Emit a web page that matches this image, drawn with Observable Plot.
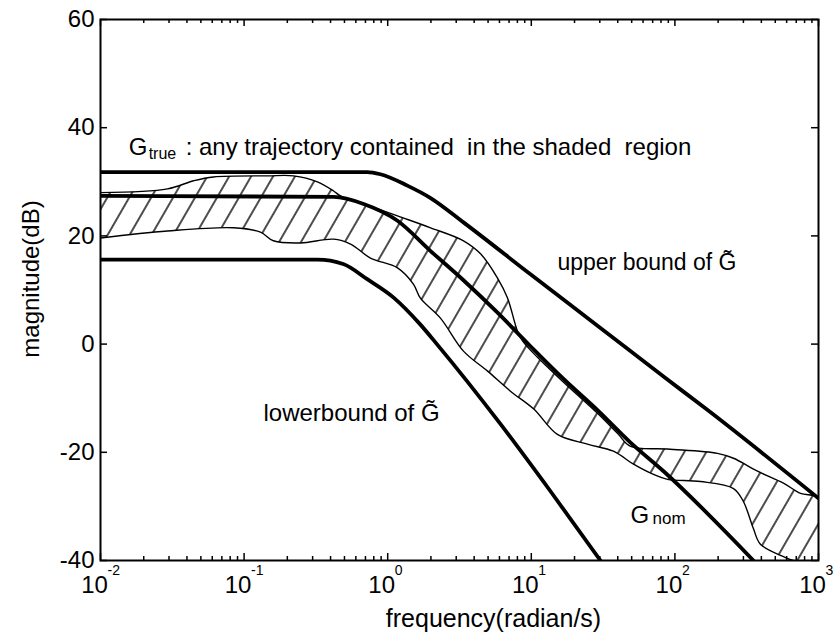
<!DOCTYPE html>
<html>
<head>
<meta charset="utf-8">
<script src="https://cdn.jsdelivr.net/npm/d3@7"></script>
<script src="https://cdn.jsdelivr.net/npm/@observablehq/plot@0.6"></script>
<style>
  html, body { margin: 0; padding: 0; background: #fff; }
  #chart svg { display: block; }
</style>
</head>
<body>
<div id="chart"></div>
<script>
// Frequency in rad/s, magnitude in dB.

// Upper bound of G~
const upperFreq = [0.01, 0.72, 0.89, 1.37, 1.99, 3.37, 9.87, 28.9, 83.3, 169, 1000];
const upperDb   = [31.8, 31.8, 31.4, 29.3, 27.0, 22.5, 12.9, 3.4, -6.0, -12.2, -28.5];

// Nominal model G_nom
const nomFreq = [0.01, 0.42, 0.68, 1.17, 1.99, 3.37, 5.82, 9.87, 16.7, 28.9, 49.1, 83.4, 352];
const nomDb   = [27.4, 27.2, 25.9, 22.8, 17.2, 11.8, 5.8, -0.4, -6.4, -12.2, -18.2, -23.5, -40];

// Lower bound of G~
const lowerFreq = [0.01, 0.325, 0.49, 0.72, 1.10, 1.69, 2.2, 6.11, 13.6, 30.3];
const lowerDb   = [15.6, 15.6, 14.8, 12.0, 8.6, 3.6, 0, -14.8, -27.2, -40];

// Shaded region (G_true): top edge
const bandTopFreq = [0.01, 0.0293, 0.0445, 0.0612, 0.1455, 0.221, 0.324, 0.42, 0.469, 0.72, 1.17, 1.99, 3.37, 4.43, 5.82, 6.83, 8.01, 8.69, 11.0, 16.7, 28.9, 39.8, 49.1, 88.7, 198, 256, 376, 570, 750, 1000];
const bandTopDb   = [28.0, 28.7, 30.2, 30.9, 31.1, 31.1, 30.0, 28.3, 27.4, 25.7, 23.7, 21.5, 19.1, 16.7, 12.2, 8.5, 2.4, 0.6, -2.4, -7.0, -12.8, -16.5, -18.9, -19.4, -20.2, -21.1, -23.5, -25.7, -27.6, -28.5];

// Shaded region (G_true): bottom edge
const bandBottomFreq = [0.01, 0.0293, 0.0843, 0.13, 0.16, 0.247, 0.42, 0.551, 0.759, 1.17, 1.51, 1.69, 2.33, 3.37, 4.96, 7.16, 10.4, 15.2, 24.6, 37.3, 51.5, 71.0, 88.7, 151, 256, 300, 352, 394, 570, 670, 1000];
const bandBottomDb   = [19.6, 20.9, 21.5, 20.7, 19.1, 18.7, 19.4, 18.5, 15.9, 14.1, 11.1, 8.5, 4.8, -1.3, -5.0, -8.7, -12.0, -16.7, -18.5, -19.8, -22.2, -24.1, -25.0, -25.4, -26.7, -29.1, -34.1, -37.0, -39.3, -40, -40];

// Axis ticks and labels
const xDecades = [0.01, 0.1, 1, 10, 100, 1000];
const xExponents = ["-2", "-1", "0", "1", "2", "3"];
const yTicks = [-40, -20, 0, 20, 40, 60];
const xLabel = "frequency(radian/s)";
const yLabel = "magnitude(dB)";

const zip = (xs, ys) => xs.map((x, i) => ({x, y: ys[i]}));
const upper = zip(upperFreq, upperDb);
const nominal = zip(nomFreq, nomDb);
const lower = zip(lowerFreq, lowerDb);
const band = [...zip(bandTopFreq, bandTopDb), ...zip(bandBottomFreq, bandBottomDb).reverse()];

// minor log ticks 2..9 within each decade
const xMinor = xDecades.slice(0, -1).flatMap(d => d3.range(2, 10).map(k => k * d));

const W = 833, H = 638;
const M = {left: 100, right: 15, top: 19, bottom: 78};
const frameW = W - M.left - M.right;
const frameH = H - M.top - M.bottom;

const font = "'Liberation Sans', Arial, Helvetica, sans-serif";
const thick = {x: "x", y: "y", curve: "monotone-x", stroke: "#000", strokeWidth: 3.8, clip: true};
const tickStyle = {stroke: "#000", strokeWidth: 1.5};
const major = 7, minor = 4;

const chart = Plot.plot({
  width: W,
  height: H,
  marginLeft: M.left,
  marginRight: M.right,
  marginTop: M.top,
  marginBottom: M.bottom,
  style: {fontFamily: font, fontSize: "24px", background: "#fff", color: "#000"},
  x: {type: "log", domain: [0.01, 1000], axis: null},
  y: {domain: [-40, 60], axis: null},
  marks: [
    // hatched uncertainty region
    Plot.line(band, {x: "x", y: "y", curve: "catmull-rom", fill: "url(#hatch)", stroke: "#000", strokeWidth: 1.4, clip: true}),
    Plot.line(upper, thick),
    Plot.line(nominal, thick),
    Plot.line(lower, thick),
    Plot.frame({stroke: "#000", strokeWidth: 2}),

    // inward tick marks on all four sides
    Plot.tickX(xDecades, {x: d => d, insetTop: frameH - major, ...tickStyle}),
    Plot.tickX(xDecades, {x: d => d, insetBottom: frameH - major, ...tickStyle}),
    Plot.tickX(xMinor, {x: d => d, insetTop: frameH - minor, ...tickStyle}),
    Plot.tickX(xMinor, {x: d => d, insetBottom: frameH - minor, ...tickStyle}),
    Plot.tickY(yTicks, {y: d => d, insetRight: frameW - major, ...tickStyle}),
    Plot.tickY(yTicks, {y: d => d, insetLeft: frameW - major, ...tickStyle}),

    // y tick labels
    Plot.text(yTicks, {y: d => d, frameAnchor: "left", text: d => String(d), textAnchor: "end", lineAnchor: "middle", dx: -6, fontSize: 24, fill: "#000"}),

    // x tick labels: 10 with superscript exponent
    Plot.text(xDecades, {x: d => d, frameAnchor: "bottom", text: () => "10", textAnchor: "middle", lineAnchor: "middle", dx: -6, dy: 25, fontSize: 24, fill: "#000"}),
    Plot.text(xDecades, {x: d => d, frameAnchor: "bottom", text: (d, i) => xExponents[i], textAnchor: "start", lineAnchor: "middle", dx: 7, dy: 10, fontSize: 14, fill: "#000"}),

    // axis titles
    Plot.text([xLabel], {frameAnchor: "bottom", text: d => d, textAnchor: "middle", lineAnchor: "middle", dx: 34, dy: 58, fontSize: 25, fill: "#000"}),
    Plot.text([yLabel], {frameAnchor: "left", text: d => d, textAnchor: "middle", lineAnchor: "middle", rotate: -90, dx: -69, dy: -11, fontSize: 24, fill: "#000"}),

    // annotations
    Plot.text(["G"], {x: 0.0157, y: 36.3, text: d => d, textAnchor: "start", fontSize: 24, fill: "#000"}),
    Plot.text(["true"], {x: 0.0157, y: 36.3, text: d => d, textAnchor: "start", dx: 20, dy: 6, fontSize: 16, fill: "#000"}),
    Plot.text([": any trajectory contained\u00a0 in the shaded\u00a0 region"], {x: 0.0157, y: 36.3, text: d => d, textAnchor: "start", dx: 57, fontSize: 24, fill: "#000"}),
    Plot.text(["upper bound of G\u0303"], {x: 15.2, y: 15.0, text: d => d, textAnchor: "start", fontSize: 23, fill: "#000"}),
    Plot.text(["lowerbound of G\u0303"], {x: 0.1365, y: -12.8, text: d => d, textAnchor: "start", fontSize: 24, fill: "#000"}),
    Plot.text(["G"], {x: 49.1, y: -31.7, text: d => d, textAnchor: "start", fontSize: 24, fill: "#000"}),
    Plot.text(["nom"], {x: 49.1, y: -31.7, text: d => d, textAnchor: "start", dx: 22, dy: 3, fontSize: 17, fill: "#000"})
  ]
});

// diagonal hatch used to fill the uncertainty region
const defs = d3.select(chart).insert("defs", ":first-child");
const pattern = defs.append("pattern")
  .attr("id", "hatch")
  .attr("patternUnits", "userSpaceOnUse")
  .attr("width", 19)
  .attr("height", 19)
  .attr("patternTransform", "rotate(30)");
pattern.append("rect").attr("width", 19).attr("height", 19).attr("fill", "#fff");
pattern.append("line")
  .attr("x1", 1).attr("y1", -1).attr("x2", 1).attr("y2", 20)
  .attr("stroke", "#000").attr("stroke-width", 1.4);

document.getElementById("chart").appendChild(chart);
</script>
</body>
</html>
